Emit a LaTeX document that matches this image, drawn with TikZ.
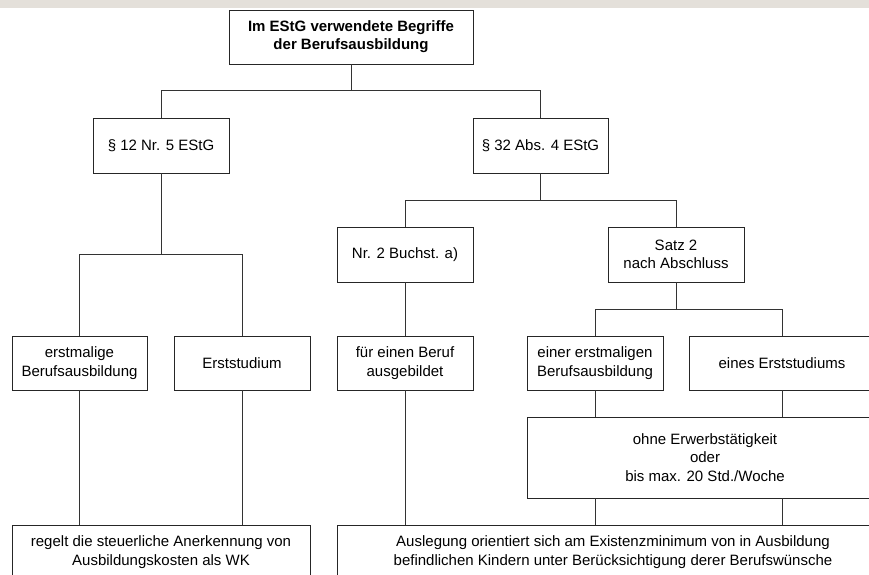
\documentclass[tikz,border=0pt]{standalone}
\usepackage{fontspec}
\setmainfont{Liberation Sans}
\begin{document}
\begin{tikzpicture}[x=1pt,y=-1pt,
  box/.style={draw=black!85,line width=0.9pt,rectangle,inner sep=0pt,align=center,
    font=\fontsize{15}{18.3}\selectfont},
  link/.style={draw=black!80,line width=0.8pt}]
\useasboundingbox (0,0) rectangle (869,574);
\clip (0,0) rectangle (869,574);
\fill[fill={rgb,255:red,228;green,224;blue,218}] (0,0) rectangle (869,7.5);

% level 0
\node[box,minimum width=244,minimum height=54,font=\fontsize{15}{18.3}\selectfont\bfseries]
  (top) at (351,37) {Im EStG verwendete Begriffe\\der Berufsausbildung};
% level 1
\node[box,minimum width=136,minimum height=55] (p12) at (161,145.5) {\S\ 12 Nr. 5 EStG};
\node[box,minimum width=135,minimum height=55] (p32) at (540.5,145.5) {\S\ 32 Abs. 4 EStG};
% level 2
\node[box,minimum width=136,minimum height=55] (nr2) at (405,254.5) {Nr. 2 Buchst. a)};
\node[box,minimum width=136,minimum height=55] (satz) at (676,254.5) {Satz 2\\nach Abschluss};
% level 3
\node[box,minimum width=135,minimum height=54] (erst) at (79.5,363) {erstmalige\\Berufsausbildung};
\node[box,minimum width=136,minimum height=54] (stud) at (242,363) {Erststudium};
\node[box,minimum width=136,minimum height=54] (beruf) at (405,363) {für einen Beruf\\ausgebildet};
\node[box,minimum width=136,minimum height=54] (einer) at (595,363) {einer erstmaligen\\Berufsausbildung};
\node[box,minimum width=186,minimum height=54] (eines) at (782,363) {eines Erststudiums};
% level 4
\node[box,minimum width=356,minimum height=81] (ohne) at (705,457.5)
  {ohne Erwerbstätigkeit\\oder\\bis max. 20 Std./Woche};
% bottom row
\node[box,minimum width=298,minimum height=54] (regelt) at (161,552)
  {regelt die steuerliche Anerkennung von\\Ausbildungskosten als WK};
\node[box,minimum width=552,minimum height=54] (ausl) at (613,552)
  {Auslegung orientiert sich am Existenzminimum von in Ausbildung\\befindlichen Kindern unter Berücksichtigung derer Berufswünsche};

% branch points
\coordinate (j1) at (351,90);
\coordinate (j2) at (161,254);
\coordinate (j3) at (540.5,200);
\coordinate (j4) at (676,309);

\draw[link] (top.south) -- (j1);
\draw[link] (p12.north) |- (j1);
\draw[link] (p32.north) |- (j1);

\draw[link] (p12.south) -- (j2);
\draw[link] (erst.north) |- (j2);
\draw[link] (stud.north) |- (j2);

\draw[link] (p32.south) -- (j3);
\draw[link] (nr2.north) |- (j3);
\draw[link] (satz.north) |- (j3);

\draw[link] (satz.south) -- (j4);
\draw[link] (einer.north) |- (j4);
\draw[link] (eines.north) |- (j4);

\draw[link] (nr2.south) -- (beruf.north);
\draw[link] (einer.south) -- (einer.south |- ohne.north);
\draw[link] (eines.south) -- (eines.south |- ohne.north);
\draw[link] (einer.south |- ohne.south) -- (einer.south |- ausl.north);
\draw[link] (eines.south |- ohne.south) -- (eines.south |- ausl.north);
\draw[link] (beruf.south) -- (beruf.south |- ausl.north);
\draw[link] (erst.south) -- (erst.south |- regelt.north);
\draw[link] (stud.south) -- (stud.south |- regelt.north);
\end{tikzpicture}
\end{document}
